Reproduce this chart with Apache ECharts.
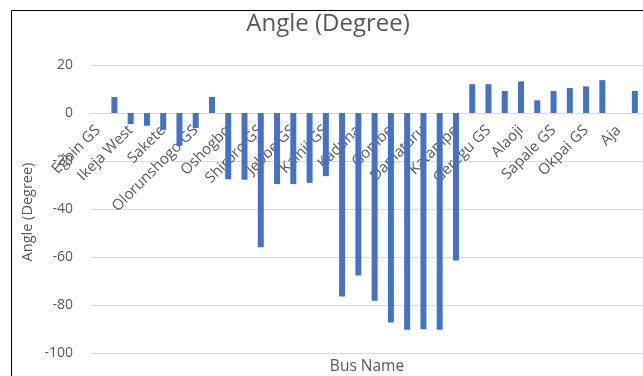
<!DOCTYPE html>
<html>
<head>
<meta charset="utf-8">
<script src="https://cdn.jsdelivr.net/npm/echarts@6/dist/echarts.min.js"></script>
<style>
  html, body { margin: 0; padding: 0; background: #fff; }
  #chart { width: 643px; height: 376px; }
</style>
</head>
<body>
<div id="chart"></div>
<script>
// bus names (only every other one is labelled on the axis)
const busNames = [
  'Egbin GS', 'Akangba', 'Ikeja West', 'Omotosho GS', 'Sakete', 'Papalanto',
  'Olorunshogo GS', 'Ayede', 'Oshogbo', 'Ganmo', 'Shiroro GS', 'Jebba',
  'Jebbe GS', 'Birnin Kebbi', 'Kainji GS', 'Jos', 'Kaduna', 'Kano',
  'Gombe', 'Yola', 'Damaturu', 'Maiduguri', 'Katampe', 'Ajaokuta',
  'Geregu GS', 'Benin', 'Alaoji', 'Afam GS', 'Sapale GS', 'Delta GS',
  'Okpai GS', 'Onitsha', 'Aja', 'Lekki'
];
// voltage angle in degrees
const angles = [
  0, 6.7, -4.6, -5.3, -7, -13.7,
  -6.3, 6.7, -27.6, -27.8, -55.9, -29.6,
  -29.6, -29.1, -26.3, -76.5, -67.7, -78.2,
  -87.3, -90.3, -90.1, -90.3, -61.5, 12.0,
  12.0, 9.2, 13.2, 5.3, 9.2, 10.4,
  11.1, 13.7, 0, 9.2
];
const yTicks = { min: -100, max: 20, interval: 20 };

const grey = '#595959';
const font = '"Open Sans", "Liberation Sans", sans-serif';

// plot box: top 65, bottom 353 -> zero sits one step below the top
const gridTop = 65, gridBottom = 23, plotH = 376 - gridTop - gridBottom;
const zeroShift = plotH * (0 - yTicks.min) / (yTicks.max - yTicks.min);

const chart = echarts.init(document.getElementById('chart'), null, { renderer: 'canvas' });

chart.setOption({
  animation: false,
  grid: { left: 90, right: 0, top: gridTop, bottom: gridBottom, containLabel: false, outerBoundsMode: 'none' },
  graphic: [
    {
      type: 'rect', silent: true,
      shape: { x: 11.5, y: 10.5, width: 700, height: 400 },
      style: { fill: 'none', stroke: '#000', lineWidth: 1 }
    },
    {
      type: 'text', x: 328, y: 24,
      style: { text: 'Angle (Degree)', font: '24px ' + font, fill: grey, textAlign: 'center', textVerticalAlign: 'middle' }
    },
    {
      type: 'text', x: 367, y: 367,
      style: { text: 'Bus Name', font: '15.5px ' + font, fill: grey, textAlign: 'center', textVerticalAlign: 'middle' }
    },
    {
      type: 'text', x: 28, y: 212, rotation: Math.PI / 2,
      style: { text: 'Angle (Degree)', font: '14.5px ' + font, fill: grey, textAlign: 'center', textVerticalAlign: 'middle' }
    }
  ],
  xAxis: {
    type: 'category',
    data: busNames,
    position: 'bottom',
    offset: -zeroShift,
    z: 0,
    axisLine: { onZero: false, lineStyle: { color: '#d9d9d9', width: 1 } },
    axisTick: { show: false },
    axisLabel: {
      interval: 1, rotate: 45, margin: 15,
      color: grey, fontSize: 15, fontFamily: font
    }
  },
  yAxis: {
    type: 'value',
    min: yTicks.min, max: yTicks.max, interval: yTicks.interval,
    axisLine: { show: false },
    axisTick: { show: false },
    axisLabel: { color: grey, fontSize: 14, fontFamily: font, margin: 17 },
    splitLine: { lineStyle: { color: '#d9d9d9', width: 1 } }
  },
  series: [{
    type: 'bar',
    data: angles,
    barWidth: 6,
    z: 10,
    itemStyle: { color: '#4472C4' }
  }]
});
</script>
</body>
</html>
